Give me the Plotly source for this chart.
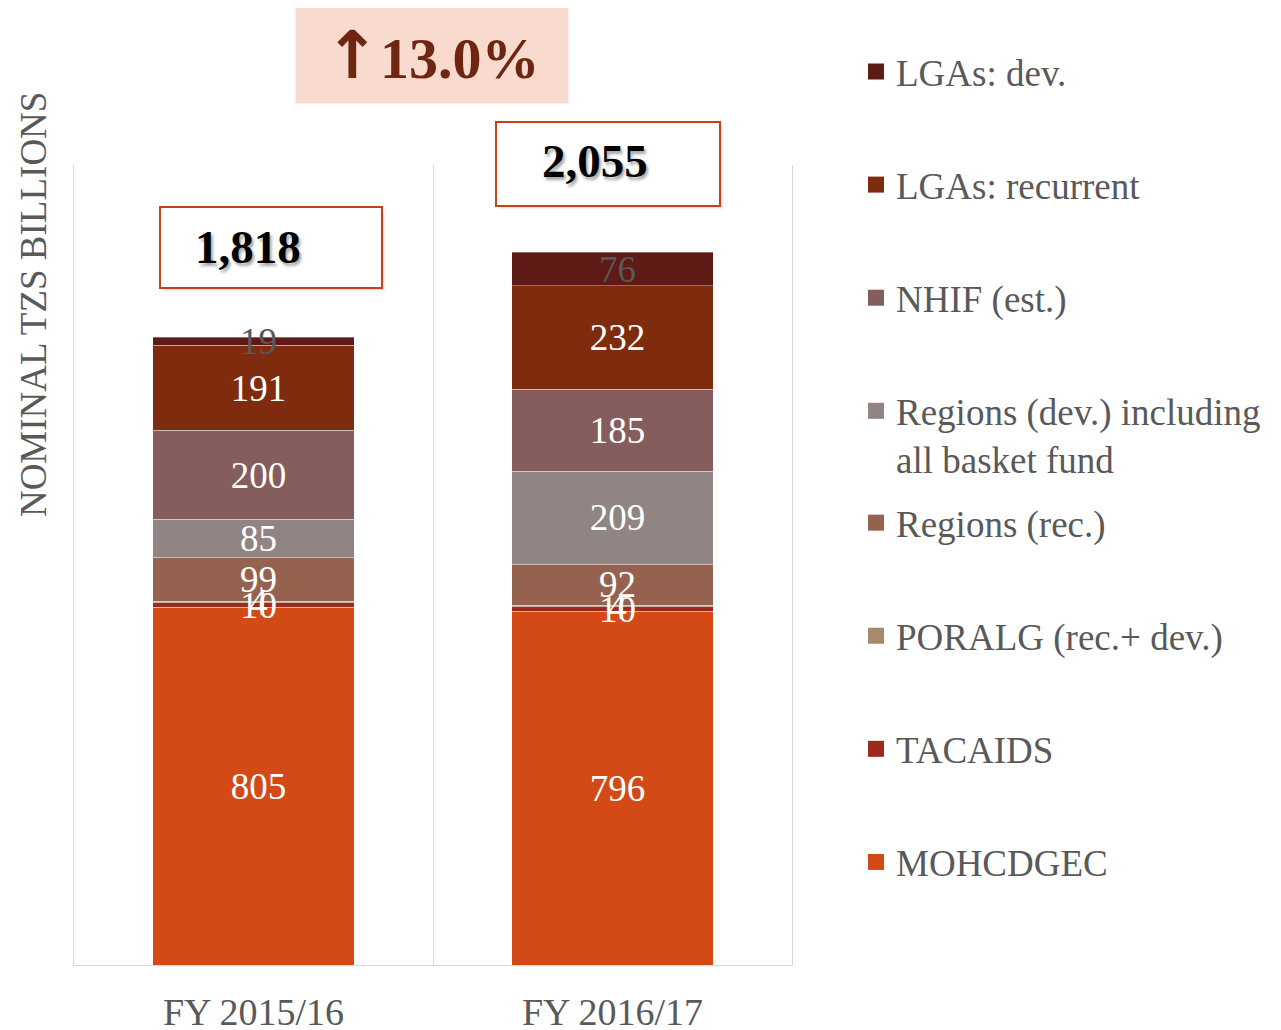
import numpy as np
import plotly.graph_objects as go

categories = ["FY 2015/16", "FY 2016/17"]
series_names = ["MOHCDGEC", "TACAIDS", "PORALG (rec.+ dev.)", "Regions (rec.)",
                "Regions (dev.) including<br>all basket fund", "NHIF (est.)",
                "LGAs: recurrent", "LGAs: dev."]
mohcdgec = [805, 796]
tacaids = [10, 10]
poralg = [4, 4]
regions_rec = [99, 92]
regions_dev = [85, 209]
nhif = [200, 185]
lgas_rec = [191, 232]
lgas_dev = [19, 76]
totals_text = ["1,818", "2,055"]
growth_text = "13.0%"

series_values = [mohcdgec, tacaids, poralg, regions_rec, regions_dev, nhif, lgas_rec, lgas_dev]
colors = ["#D34A17", "#9C2B1E", "#A38B6B", "#966250", "#908484", "#855D5D", "#7F2C0E", "#5E1A14"]
label_colors = ["white"] * 7 + ["#595959"]

FONT = "Liberation Serif"
GRAY = "#595959"

fig = go.Figure()
for name, vals, col in zip(series_names, series_values, colors):
    fig.add_trace(go.Bar(
        x=categories, y=vals, name=name, marker_color=col,
        marker_line=dict(color="rgba(255,255,255,0.35)", width=1),
        showlegend=False, hoverinfo="skip"))

# segment value labels drawn on top of all bars (centred in each stacked segment)
arr = np.array(series_values, dtype=float)
base = np.vstack([np.zeros(arr.shape[1]), np.cumsum(arr, axis=0)[:-1]])
mid = base + arr / 2
for vals, m, lc in zip(series_values, mid, label_colors):
    fig.add_trace(go.Scatter(
        x=categories, y=m, mode="text", text=[str(v) for v in vals],
        xaxis="x2", yaxis="y2",
        textposition="middle center", textfont=dict(family=FONT, size=37, color=lc),
        showlegend=False, hoverinfo="skip", cliponaxis=False))

# legend entries (top-to-bottom display order), split over two legend boxes
legend_order = [7, 6, 5, 4, 3, 2, 1, 0]
for k, i in enumerate(legend_order):
    fig.add_trace(go.Scatter(
        x=[None], y=[None], mode="markers", name=series_names[i],
        legend="legend" if k < 4 else "legend2", legendgroup=f"g{k}",
        marker=dict(symbol="square", size=16, color=colors[i]), hoverinfo="skip"))

# total callout boxes (paper coords)
box_specs = [
    dict(cx=0.2744, cy=0.8969, w=224, h=83, tx=0.2423, ty=0.8975, text=totals_text[0]),
    dict(cx=0.7437, cy=1.00125, w=226, h=86, tx=0.7256, ty=1.005, text=totals_text[1]),
]
annotations = []
for b in box_specs:
    annotations.append(dict(xref="paper", yref="paper", x=b["cx"], y=b["cy"], xshift=3, yshift=-3,
                            xanchor="center", yanchor="middle",
                            text=" ", showarrow=False, width=b["w"] - 4, height=b["h"] - 4,
                            bgcolor="rgba(0,0,0,0.12)", borderpad=0))
    annotations.append(dict(xref="paper", yref="paper", x=b["cx"], y=b["cy"],
                            xanchor="center", yanchor="middle",
                            text=" ", showarrow=False, width=b["w"] - 4, height=b["h"] - 4,
                            bgcolor="white", bordercolor="#C0431B", borderwidth=2, borderpad=0))
    annotations.append(dict(xref="paper", yref="paper", x=b["tx"], y=b["ty"],
                            xanchor="center", yanchor="middle",
                            text=f"<b>{b['text']}</b>", showarrow=False,
                            font=dict(family=FONT, size=47, color="black",
                                      shadow="2px 3px 3px rgba(0,0,0,0.35)")))

annotations.append(dict(xref="paper", yref="paper", x=0.4986, y=1.1375,
                        xanchor="center", yanchor="middle",
                        text=("<span style='font-family:DejaVu Sans;font-size:66px'><b>↑</b></span>"
                              f"<b>{growth_text}</b>"),
                        showarrow=False,
                        width=264, height=88, borderpad=4, bgcolor="#F9DACE",
                        font=dict(family=FONT, size=58, color="#6E2511")))

annotations.append(dict(xref="paper", yref="paper", x=-0.057, y=0.825,
                        xanchor="center", yanchor="middle",
                        text="NOMINAL TZS BILLIONS", textangle=-90, showarrow=False,
                        font=dict(family=FONT, size=37, color=GRAY)))

legend_common = dict(xref="container", yref="container", xanchor="left", yanchor="top",
                     traceorder="grouped", tracegroupgap=62, valign="top",
                     font=dict(family=FONT, size=37, color=GRAY), bgcolor="rgba(0,0,0,0)")

fig.update_layout(
    width=1281, height=1030,
    margin=dict(l=66, r=497, t=157, b=73, autoexpand=False),
    barmode="stack", bargap=0.44,
    plot_bgcolor="white", paper_bgcolor="white",
    font=dict(family=FONT, color=GRAY),
    xaxis=dict(type="category", tickson="boundaries", showgrid=True, gridcolor="#D9D9D9",
               showline=True, linecolor="#D9D9D9", ticks="", ticklabelstandoff=13,
               automargin=False,
               tickfont=dict(family=FONT, size=38, color=GRAY), range=[-0.5, 1.5]),
    yaxis=dict(range=[0, 1800], showgrid=False, showticklabels=False, zeroline=False,
               showline=True, mirror=True, linecolor="#D9D9D9", ticks="", automargin=False),
    xaxis2=dict(type="category", overlaying="x", range=[-0.514, 1.486], visible=False,
                automargin=False),
    yaxis2=dict(overlaying="y", range=[8, 1808], visible=False, automargin=False),
    legend=dict(x=0.662, y=0.968, **legend_common),
    legend2=dict(x=0.662, y=0.530, **legend_common),
    annotations=annotations,
)

fig.write_html("out.html")
